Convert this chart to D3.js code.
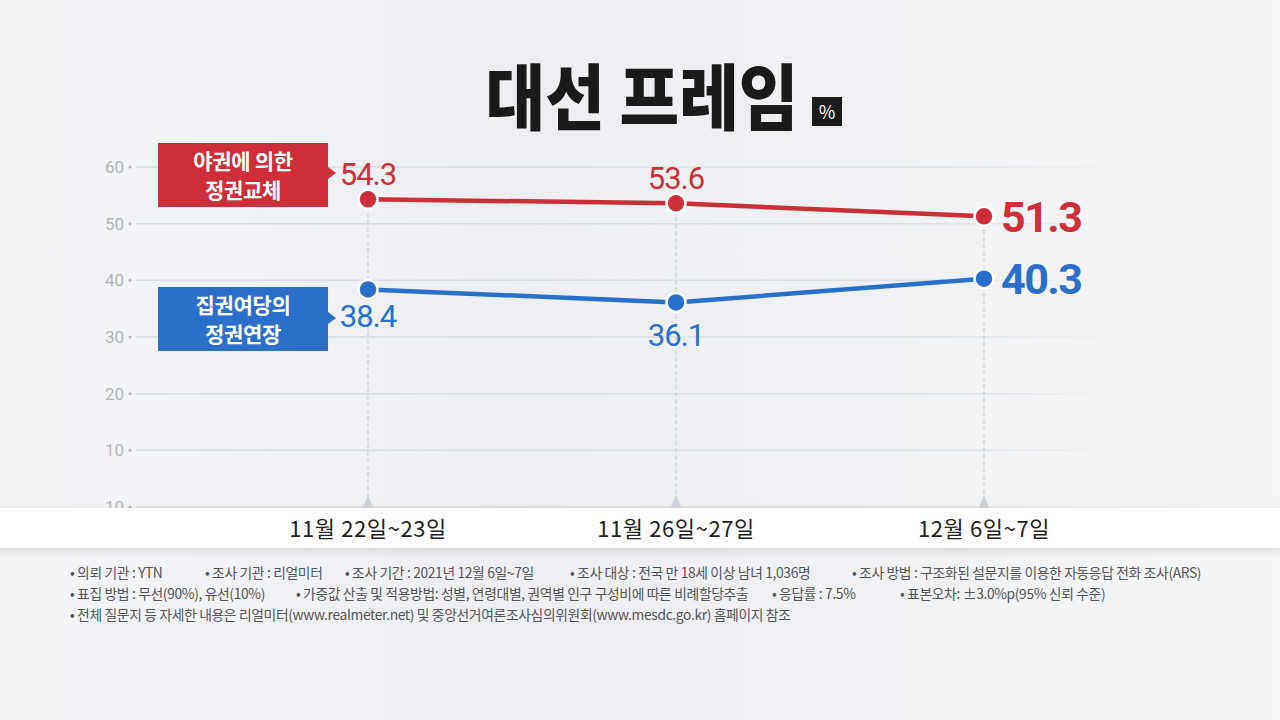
<!DOCTYPE html>
<html>
<head>
<meta charset="utf-8">
<script src="https://cdn.jsdelivr.net/npm/d3@7"></script>
<style>
  html, body { margin: 0; padding: 0; background: #eef0f2; }
  svg { display: block; }
  text { font-family: "Noto Sans CJK KR", "Noto Sans", sans-serif; }
  .num { font-family: Roboto, "Noto Sans CJK KR", sans-serif; }
</style>
</head>
<body>
<svg width="1280" height="720"></svg>
<script>
var dates = ["11월 22일~23일", "11월 26일~27일", "12월 6일~7일"];
var opposition = [54.3, 53.6, 51.3];   // 야권에 의한 정권교체
var ruling = [38.4, 36.1, 40.3];       // 집권여당의 정권연장
var yTicks = [0, 10, 20, 30, 40, 50, 60];
var yTickLabels = ["10", "10", "20", "30", "40", "50", "60"];
var notes = [
  ["• 의뢰 기관 : YTN", "• 조사 기관 : 리얼미터", "• 조사 기간 : 2021년 12월 6일~7일", "• 조사 대상 : 전국 만 18세 이상 남녀 1,036명", "• 조사 방법 : 구조화된 설문지를 이용한 자동응답 전화 조사(ARS)"],
  ["• 표집 방법 : 무선(90%), 유선(10%)", "• 가중값 산출 및 적용방법: 성별, 연령대별, 권역별 인구 구성비에 따른 비례할당추출", "• 응답률 : 7.5%", "• 표본오차: ±3.0%p(95% 신뢰 수준)"],
  ["• 전체 질문지 등 자세한 내용은 리얼미터(www.realmeter.net) 및 중앙선거여론조사심의위원회(www.mesdc.go.kr) 홈페이지 참조"]
];
var noteX = [[70, 205, 345, 570, 852], [70, 296, 772, 900], [70]];

var svg = d3.select("svg"),
    width = +svg.attr("width"),
    height = +svg.attr("height");

var red = "#cc2f3a", blue = "#2a6fca";

var defs = svg.append("defs");
var bg = defs.append("linearGradient").attr("id", "bg");
bg.append("stop").attr("offset", "0%").attr("stop-color", "#f3f4f6");
bg.append("stop").attr("offset", "40%").attr("stop-color", "#eceef1");
bg.append("stop").attr("offset", "75%").attr("stop-color", "#eff1f3");
bg.append("stop").attr("offset", "100%").attr("stop-color", "#f5f6f7");
var gridGrad = defs.append("linearGradient").attr("id", "gridGrad")
    .attr("gradientUnits", "userSpaceOnUse").attr("x1", 135).attr("x2", 1130);
gridGrad.append("stop").attr("offset", "0%").attr("stop-color", "#d8dbdf");
gridGrad.append("stop").attr("offset", "80%").attr("stop-color", "#dde0e3");
gridGrad.append("stop").attr("offset", "100%").attr("stop-color", "#dde0e3").attr("stop-opacity", 0);
var sh = defs.append("filter").attr("id", "shadow").attr("x", "-5%").attr("y", "-50%").attr("width", "110%").attr("height", "200%");
sh.append("feDropShadow").attr("dx", 0).attr("dy", 3).attr("stdDeviation", 4).attr("flood-color", "#000").attr("flood-opacity", 0.12);

svg.append("rect").attr("width", width).attr("height", height).attr("fill", "url(#bg)");

var x = d3.scalePoint().domain(dates).range([368, 984]);
var y = d3.scaleLinear().domain([0, 60]).range([507, 167]);

// title
svg.append("text")
    .attr("transform", "translate(642,124) scale(0.9,1)")
    .attr("text-anchor", "middle")
    .attr("font-size", 72).attr("font-weight", 900)
    .attr("fill", "#1a1a1a")
    .text("대선 프레임");
svg.append("rect").attr("x", 812).attr("y", 97).attr("width", 30).attr("height", 29).attr("fill", "#1a1a1a");
svg.append("text").attr("x", 827).attr("y", 119).attr("text-anchor", "middle")
    .attr("font-size", 18).attr("fill", "#fff").attr("font-family", "Roboto, sans-serif").text("%");

// y grid
var yAxis = svg.append("g");
var tick = yAxis.selectAll("g").data(yTicks).enter().append("g")
    .attr("transform", function(d) { return "translate(0," + y(d) + ")"; });
tick.append("line").attr("x1", 136).attr("x2", 1130)
    .attr("stroke", "url(#gridGrad)").attr("stroke-width", 1.5);
tick.append("circle").attr("cx", 130).attr("r", 1.5).attr("fill", "#b5b8bc");
tick.append("text").attr("class", "num")
    .attr("x", 124).attr("dy", "0.35em").attr("text-anchor", "end")
    .attr("font-size", 17).attr("fill", "#b3b6ba")
    .text(function(d, i) { return yTickLabels[i]; });

// vertical dashed guides
var guide = svg.append("g").selectAll("g").data(dates).enter().append("g");
guide.append("line")
    .attr("x1", function(d) { return x(d); }).attr("x2", function(d) { return x(d); })
    .attr("y1", function(d, i) { return y(opposition[i]); }).attr("y2", 500)
    .attr("stroke", "#c9ccd0").attr("stroke-width", 1.2).attr("stroke-dasharray", "4 3");
guide.append("path")
    .attr("d", function(d) { var cx = x(d); return "M" + (cx - 6) + ",509L" + cx + ",495L" + (cx + 6) + ",509Z"; })
    .attr("fill", "#d0d3d7");

// white date band
svg.append("rect").attr("x", -10).attr("y", 508).attr("width", width + 20).attr("height", 40)
    .attr("fill", "#ffffff").attr("filter", "url(#shadow)");
svg.append("g").selectAll("text").data(dates).enter().append("text")
    .attr("x", function(d) { return x(d); }).attr("y", 537)
    .attr("text-anchor", "middle").attr("font-size", 22).attr("fill", "#222")
    .attr("letter-spacing", 0.6)
    .text(function(d) { return d; });

// lines
var line = d3.line().x(function(d, i) { return x(dates[i]); }).y(function(d) { return y(d); });
[[opposition, red], [ruling, blue]].forEach(function(s) {
  svg.append("path").datum(s[0]).attr("d", line)
      .attr("fill", "none").attr("stroke", s[1]).attr("stroke-width", 4.5);
  svg.append("g").selectAll("circle").data(s[0]).enter().append("circle")
      .attr("cx", function(d, i) { return x(dates[i]); })
      .attr("cy", function(d) { return y(d); })
      .attr("r", 9.5).attr("fill", s[1]).attr("stroke", "#fff").attr("stroke-width", 2.5);
});

// value labels
function valueLabel(v, i, color, dy) {
  var last = i === dates.length - 1;
  var t = svg.append("text").attr("class", "num").attr("fill", color)
      .text(v.toFixed(1));
  if (last) {
    t.attr("x", x(dates[i]) + 17).attr("y", y(v)).attr("dy", "0.36em")
     .attr("font-size", 43).attr("font-weight", 700).attr("letter-spacing", -1.5);
  } else {
    t.attr("x", x(dates[i])).attr("text-anchor", "middle")
     .attr("y", y(v) + dy)
     .attr("font-size", 31).attr("letter-spacing", -1);
  }
}
opposition.forEach(function(v, i) { valueLabel(v, i, red, -14); });
ruling.forEach(function(v, i) { valueLabel(v, i, blue, i === 0 ? 38 : 44); });

// series tags
var tags = [
  { lines: ["야권에 의한", "정권교체"], color: red, y0: 143, arrowY: 173 },
  { lines: ["집권여당의", "정권연장"], color: blue, y0: 287, arrowY: 318 }
];
tags.forEach(function(t) {
  var g = svg.append("g");
  g.append("rect").attr("x", 158).attr("y", t.y0).attr("width", 170).attr("height", 64).attr("fill", t.color);
  g.append("path").attr("d", "M328," + (t.arrowY - 6) + "L336," + t.arrowY + "L328," + (t.arrowY + 6) + "Z").attr("fill", t.color);
  g.selectAll("text").data(t.lines).enter().append("text")
      .attr("x", 243).attr("y", function(d, i) { return t.y0 + 26 + i * 29; })
      .attr("text-anchor", "middle").attr("font-size", 21).attr("font-weight", 700)
      .attr("fill", "#fff").attr("letter-spacing", -0.3)
      .text(function(d) { return d; });
});

// footnotes
notes.forEach(function(row, r) {
  svg.append("g").selectAll("text").data(row).enter().append("text")
      .attr("x", function(d, i) { return noteX[r][i]; })
      .attr("y", 578 + r * 21)
      .attr("font-size", 13.8).attr("fill", "#555").attr("letter-spacing", -0.35)
      .text(function(d) { return d; });
});
</script>
</body>
</html>
